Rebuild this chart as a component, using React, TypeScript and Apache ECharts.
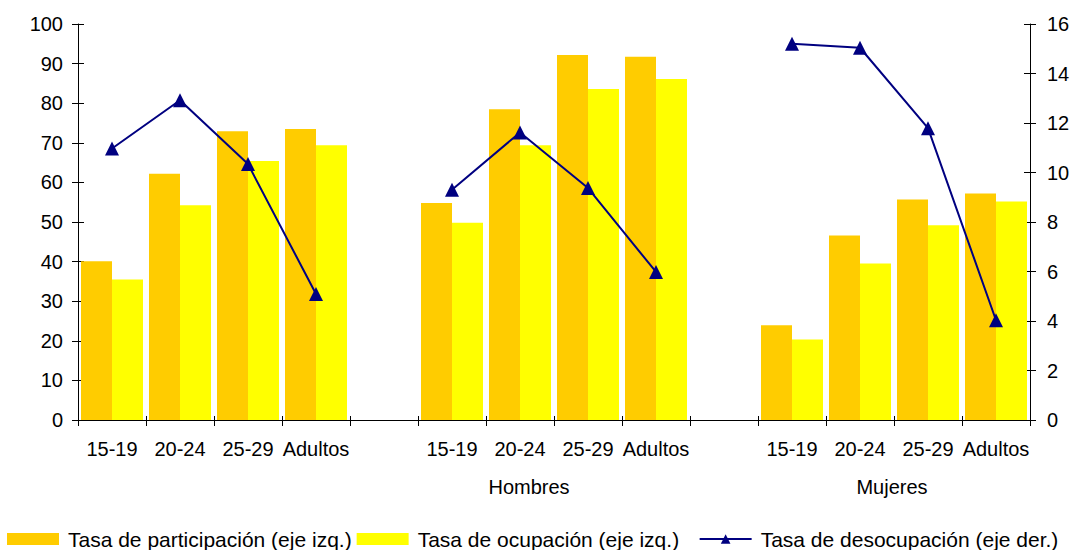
import React, { useEffect, useRef } from "react";
import * as echarts from "echarts";

const categories = [
  "15-19", "20-24", "25-29", "Adultos", "",
  "15-19", "20-24", "25-29", "Adultos", "",
  "15-19", "20-24", "25-29", "Adultos",
];
const groupLabels = ["Hombres", "Mujeres"];
const participacion = [40.1, 62.2, 72.9, 73.5, null, 54.8, 78.5, 92.2, 91.7, null, 23.9, 46.6, 55.7, 57.2];
const ocupacion = [35.5, 54.2, 65.4, 69.4, null, 49.8, 69.4, 83.6, 86.1, null, 20.3, 39.5, 49.2, 55.2];
const desocupacion = [10.97, 12.92, 10.34, 5.09, null, 9.3, 11.62, 9.37, 5.98, null, 15.2, 15.04, 11.79, 4.03];
const seriesNames = [
  "Tasa de participación (eje izq.)",
  "Tasa de ocupación (eje izq.)",
  "Tasa de desocupación (eje der.)",
];

const FONT = "'Liberation Sans', Arial, sans-serif";
const FS = 20;

export default function App() {
  const ref = useRef<HTMLDivElement>(null);
  useEffect(() => {
    if (!ref.current) return;
    const chart = echarts.init(ref.current, undefined, { renderer: "svg" });
    const axisLine = { show: true, lineStyle: { color: "#000", width: 1 } };
    chart.setOption({
      animation: false,
      backgroundColor: "#fff",
      textStyle: { fontFamily: FONT },
      grid: { left: 78, right: 54, top: 24, bottom: 130, containLabel: false },
      legend: {
        left: 2,
        top: 523,
        padding: 5,
        itemGap: 5,
        itemWidth: 52,
        itemHeight: 12,
        textStyle: { fontFamily: FONT, fontSize: 21, color: "#000", padding: [0, 0, 0, 4], lineHeight: 22 },
        data: [
          { name: seriesNames[0], icon: "rect" },
          { name: seriesNames[1], icon: "rect", textStyle: { width: 276 } },
          { name: seriesNames[2] },
        ],
      },
      xAxis: [
        {
          type: "category",
          data: categories,
          position: "bottom",
          axisLine,
          axisTick: { show: true, interval: 0, length: 6, lineStyle: { color: "#000" } },
          axisLabel: { interval: 0, color: "#000", fontFamily: FONT, fontSize: FS, margin: 19 },
          splitLine: { show: false },
        },
        {
          type: "category",
          data: categories,
          position: "bottom",
          axisLine: { show: false },
          axisTick: { show: true, inside: true, interval: 0, length: 4, lineStyle: { color: "#000" } },
          axisLabel: { show: false },
          splitLine: { show: false },
        },
      ],
      yAxis: [
        {
          type: "value",
          min: 0,
          max: 100,
          interval: 10,
          position: "left",
          axisLine,
          axisTick: { show: true, length: 6, lineStyle: { color: "#000" } },
          axisLabel: { color: "#000", fontFamily: FONT, fontSize: FS, margin: 15 },
          splitLine: { show: false },
        },
        {
          type: "value",
          min: 0,
          max: 16,
          interval: 2,
          position: "right",
          axisLine,
          axisTick: { show: true, length: 6, lineStyle: { color: "#000" } },
          axisLabel: { color: "#000", fontFamily: FONT, fontSize: FS, margin: 17 },
          splitLine: { show: false },
        },
        {
          type: "value",
          min: 0,
          max: 100,
          interval: 10,
          position: "left",
          axisLine: { show: false },
          axisTick: { show: true, inside: true, length: 6, lineStyle: { color: "#000" } },
          axisLabel: { show: false },
          splitLine: { show: false },
        },
        {
          type: "value",
          min: 0,
          max: 16,
          interval: 2,
          position: "right",
          axisLine: { show: false },
          axisTick: { show: true, inside: true, length: 6, lineStyle: { color: "#000" } },
          axisLabel: { show: false },
          splitLine: { show: false },
        },
      ],
      graphic: [
        {
          type: "text",
          x: 529,
          y: 487,
          style: { text: groupLabels[0], fill: "#000", font: `${FS}px ${FONT}`, textAlign: "center", textVerticalAlign: "middle" },
        },
        {
          type: "text",
          x: 892,
          y: 487,
          style: { text: groupLabels[1], fill: "#000", font: `${FS}px ${FONT}`, textAlign: "center", textVerticalAlign: "middle" },
        },
      ],
      series: [
        {
          name: seriesNames[0],
          type: "bar",
          data: participacion,
          yAxisIndex: 0,
          barWidth: 31,
          barGap: "0%",
          itemStyle: { color: "#FFCC00" },
        },
        {
          name: seriesNames[1],
          type: "bar",
          data: ocupacion,
          yAxisIndex: 0,
          barWidth: 31,
          barGap: "0%",
          itemStyle: { color: "#FFFF00" },
        },
        {
          name: seriesNames[2],
          type: "line",
          data: desocupacion,
          yAxisIndex: 1,
          connectNulls: false,
          symbol: "triangle",
          symbolSize: 14,
          lineStyle: { color: "#000080", width: 2 },
          itemStyle: { color: "#000080" },
          z: 5,
        },
      ],
    });
    return () => chart.dispose();
  }, []);
  return (
    <div
      ref={ref}
      style={{ position: "fixed", left: 0, top: 0, width: 1084, height: 550, background: "#fff" }}
    />
  );
}
